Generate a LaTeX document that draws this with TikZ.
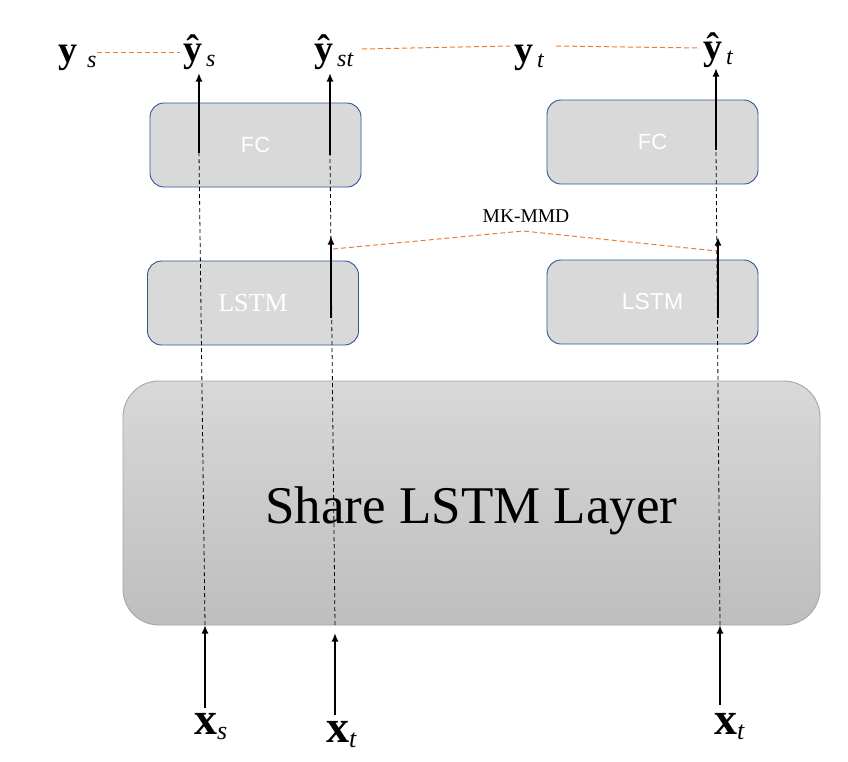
\documentclass[tikz,border=0pt]{standalone}
\usepackage{fontspec}
\setmainfont{Liberation Serif}
\newfontfamily\sansf{Liberation Sans}
\usetikzlibrary{arrows.meta}
\definecolor{boxfill}{HTML}{D9D9D9}
\definecolor{boxline}{HTML}{2F5597}
\definecolor{lossorange}{HTML}{ED7D31}
\definecolor{sharetop}{HTML}{D8D8D8}
\definecolor{sharebot}{HTML}{BEBEBE}
\definecolor{shareline}{HTML}{A6A6A6}
\newcommand{\mylab}[5]{{\fontsize{#1}{#1}\selectfont\textbf{#2}}\hspace{#4}\raisebox{-5pt}{\fontsize{#5}{#5}\selectfont\textit{#3}}}
\tikzset{
  smallbox/.style={draw=boxline, line width=0.9pt, fill=boxfill, rounded corners=14pt,
    minimum width=211pt, minimum height=84pt, inner sep=0pt, text=white},
  fctext/.style={font=\sansf\fontsize{22}{22}\selectfont},
  sansl/.style={font=\sansf\fontsize{23}{23}\selectfont},
  serifl/.style={font=\fontsize{26}{26}\selectfont},
  sharebox/.style={draw=shareline, line width=0.9pt, top color=sharetop, bottom color=sharebot,
    rounded corners=36pt, minimum width=697pt, minimum height=244pt, inner sep=0pt,
    font=\fontsize{53}{53}\selectfont},
  flow/.style={line width=1.8pt, -{Latex[length=8.5pt,width=7pt]}},
  guide/.style={line width=0.8pt, dash pattern=on 4pt off 3pt},
  loss/.style={draw=lossorange, line width=1pt, dash pattern=on 5pt off 3pt},
  lab/.style={anchor=base west, inner sep=0pt}
}
\begin{document}
\begin{tikzpicture}[x=1pt,y=-1pt]
\useasboundingbox (0,0) rectangle (848,761);
\fill[white] (0,0) rectangle (848,761);

% boxes
\node[sharebox] (share) at (471.5,503) {\raisebox{-20pt}[0pt][0pt]{Share LSTM Layer}};
\node[smallbox, fctext] (fc1) at (255.5,145) {FC};
\node[smallbox, fctext] (fc2) at (652.5,142) {FC};
\node[smallbox, serifl] (ls1) at (253,303) {LSTM};
\node[smallbox, sansl] (ls2) at (652.5,302) {LSTM};

% labels
\node[lab] (ys) at (58,62) {\mylab{38}{y}{s}{10pt}{24}};
\node[lab] (yhs) at (183,61) {\mylab{38}{\^{y}}{s}{4pt}{24}};
\node[lab] (yhst) at (314,61) {\mylab{38}{\^{y}}{st}{4pt}{24}};
\node[lab] (yt) at (514,62) {\mylab{38}{y}{t}{4pt}{24}};
\node[lab] (yht) at (703,59) {\mylab{38}{\^{y}}{t}{4pt}{24}};
\node[lab] (xs) at (194,734) {\mylab{46}{x}{s}{0pt}{26}};
\node[lab] (xt1) at (326,742) {\mylab{46}{x}{t}{0pt}{26}};
\node[lab] (xt2) at (714,734) {\mylab{46}{x}{t}{0pt}{26}};
\node[font=\fontsize{19.5}{19.5}\selectfont, inner sep=0pt] (mk) at (526,216) {MK-MMD};

% coordinates
\coordinate (a1s) at (199,153); \coordinate (a1e) at (199,73);
\coordinate (a2s) at (330,155); \coordinate (a2e) at (330,73);
\coordinate (a3s) at (716,150); \coordinate (a3e) at (716,68);
\coordinate (m1s) at (331,318); \coordinate (m1e) at (331,236);
\coordinate (m2s) at (718,318); \coordinate (m2e) at (718,237);
\coordinate (b1s) at (205,708); \coordinate (b1e) at (205,625);
\coordinate (b2s) at (335,715); \coordinate (b2e) at (335,633);
\coordinate (b3s) at (720,705); \coordinate (b3e) at (720,625);
\coordinate (g2b) at (335,625);
\coordinate (l1a) at (97,52); \coordinate (l1b) at (180,52);
\coordinate (l2a) at (362,49); \coordinate (l2b) at (510,46);
\coordinate (l3a) at (556,46); \coordinate (l3b) at (700,48);
\coordinate (mkl) at (333,249); \coordinate (mkc) at (523,231); \coordinate (mkr) at (717,251);

% guide lines
\draw[guide] (b1e) -- (a1s);
\draw[guide] (g2b) -- (a2s);
\draw[guide] (b3e) -- (a3s);

% arrows
\draw[flow] (a1s) -- (a1e);
\draw[flow] (a2s) -- (a2e);
\draw[flow] (a3s) -- (a3e);
\draw[flow] (m1s) -- (m1e);
\draw[flow] (m2s) -- (m2e);
\draw[flow] (b1s) -- (b1e);
\draw[flow] (b2s) -- (b2e);
\draw[flow] (b3s) -- (b3e);

% loss lines
\draw[loss] (l1a) -- (l1b);
\draw[loss] (l2a) -- (l2b);
\draw[loss] (l3a) -- (l3b);
\draw[loss] (mkl) -- (mkc) -- (mkr);
\end{tikzpicture}
\end{document}
